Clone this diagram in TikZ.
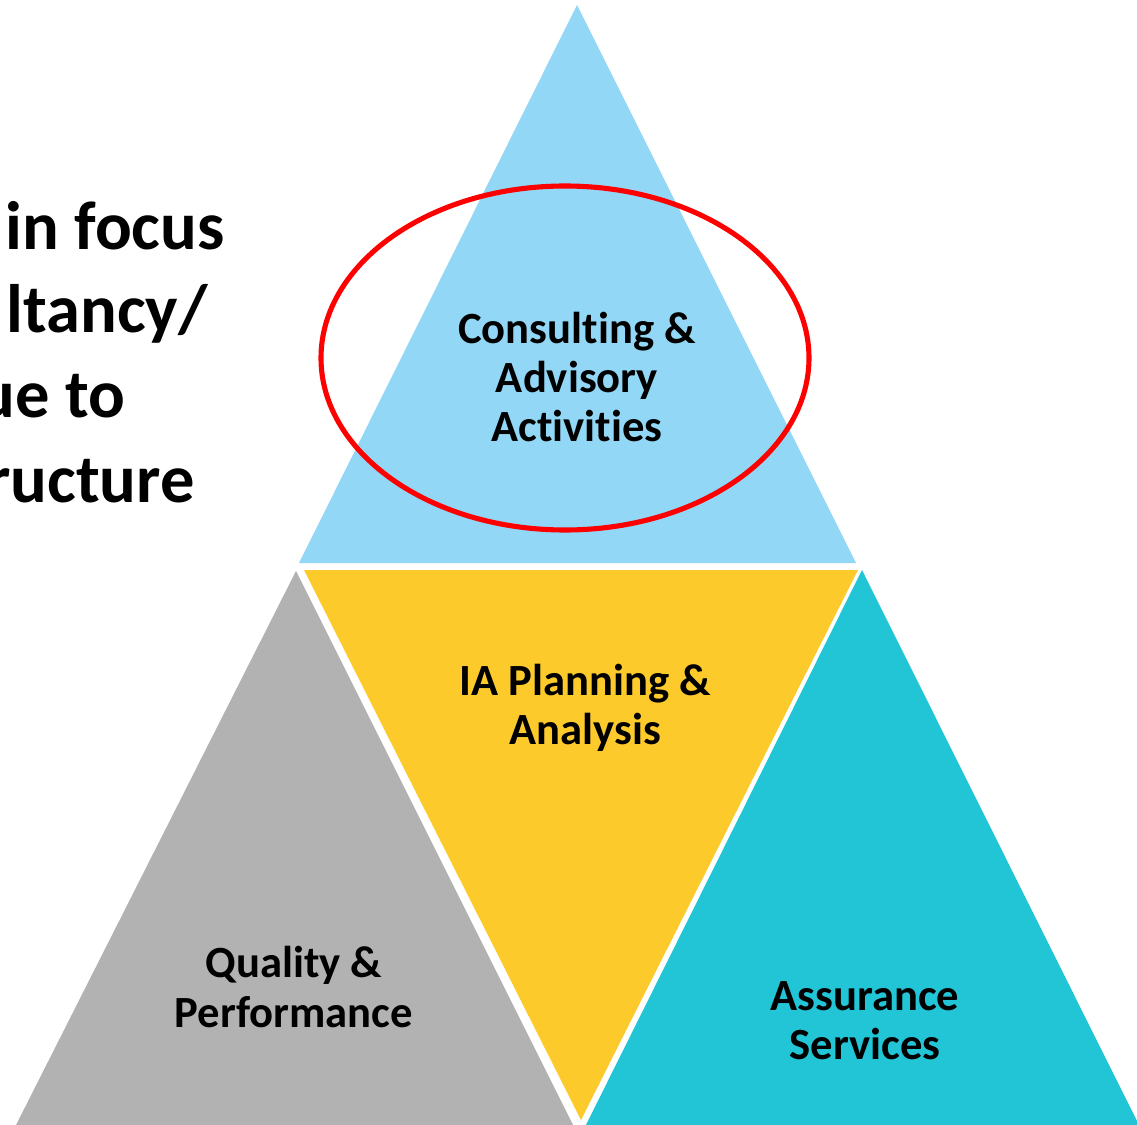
\documentclass[tikz,border=0pt]{standalone}
\usepackage{fontspec}
\setmainfont{Carlito}[Ligatures=NoCommon]
\begin{document}
\begin{tikzpicture}[x=0.02cm,y=-0.02cm,
  label/.style={align=center, inner sep=0pt, font=\fontsize{25.4}{28}\selectfont\bfseries},
  side/.style={anchor=base west, inner sep=0pt, font=\fontsize{39}{47}\selectfont\bfseries}]
  \definecolor{skyblue}{HTML}{92D7F5}
  \definecolor{sunyellow}{HTML}{FDCA2C}
  \definecolor{midgray}{HTML}{B2B2B2}
  \definecolor{tealblue}{HTML}{21C5D6}
  \definecolor{ringred}{HTML}{FF0000}
  \useasboundingbox (0,0) rectangle (1137,1125);
  \clip (0,0) rectangle (1137,1125);
  \fill[white] (0,0) rectangle (1137,1125);

  % four triangles of the pyramid
  \fill[skyblue]   (577,5) -- (856,563) -- (299,563) -- cycle;
  \fill[sunyellow] (304,570) -- (858,570) -- (581,1120) -- cycle;
  \fill[midgray]   (296,571) -- (576,1131) -- (13,1131) -- cycle;
  \fill[tealblue]  (862,570) -- (1142,1131) -- (583,1131) -- cycle;

  % highlight ring
  \draw[ringred, line width=2.9pt] (565,358) ellipse [x radius=244, y radius=172];

  % labels
  \node[label] (consult) at (577,377) {Consulting \&\\Advisory\\Activities};
  \node[label] (plan)    at (585,708) {IA Planning \&\\Analysis};
  \node[label] (quality) at (294,987) {Quality \&\\Performance};
  \node[label] (assure)  at (865,1021) {Assurance\\Services};

  % heading text running in from the left edge
  \node[side] (h1) at (5,250) {in focus};
  \node[side] (h2) at (6,333) {ltancy/};
  \node[side] (h3) at (-22,418) {ue to};
  \node[side] (h4) at (-14,502) {ructure};
\end{tikzpicture}
\end{document}
